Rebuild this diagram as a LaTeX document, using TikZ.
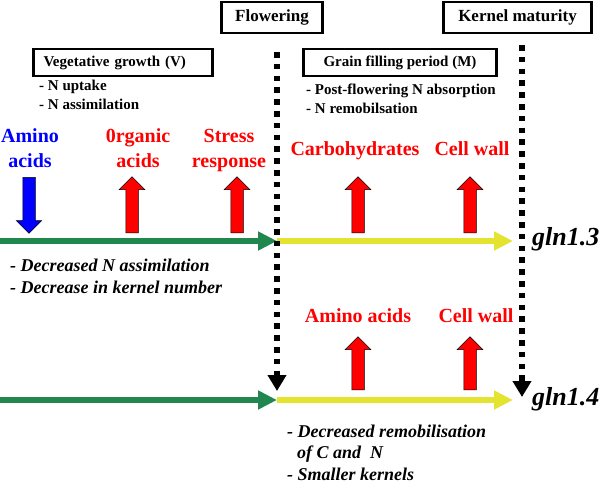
\documentclass[tikz,border=0pt]{standalone}
\usepackage{fontspec}
\setmainfont{Liberation Serif}
\usepackage{xcolor}
\usetikzlibrary{arrows.meta,shapes.arrows,positioning}

\definecolor{phasegreen}{RGB}{32,136,78}
\definecolor{phaseyellow}{RGB}{228,228,48}

\tikzset{
  stagebox/.style={draw, line width=2.6pt, font=\bfseries\fontsize{17}{20}\selectfont, inner sep=0pt},
  periodbox/.style={draw, line width=2.4pt, font=\bfseries\fontsize{15}{18}\selectfont, inner sep=0pt, minimum height=27pt},
  notes/.style={font=\bfseries\fontsize{15}{19}\selectfont, align=left, anchor=base west, inner sep=0pt},
  effect/.style={font=\bfseries\itshape\fontsize{18}{21.5}\selectfont, align=left, anchor=base west, inner sep=0pt},
  metab/.style={font=\bfseries\fontsize{20}{25}\selectfont, text=red, align=center, anchor=base, inner sep=0pt},
  blockup/.style={single arrow, draw=black, line width=0.5pt, fill=red, minimum height=56pt, minimum width=25pt,
    single arrow head extend=6.5pt, inner sep=6pt, shape border rotate=90, anchor=tail},
  phase/.style={line width=6pt, -{Triangle[length=19pt,width=18pt]}},
  stageline/.style={line width=5.5pt, dash pattern=on 5.5pt off 6.3pt, -{Triangle[length=16pt,width=18pt]}},
  gene/.style={font=\bfseries\itshape\fontsize{26}{30}\selectfont, anchor=base west, inner sep=0pt}
}

\begin{document}
\begin{tikzpicture}[x=1pt, y=-1pt]
\useasboundingbox (0,0) rectangle (600,482);

% stage boxes
\node[stagebox, minimum width=101pt, minimum height=31pt] (flowering) at (272,17.5) {Flowering};
\node[stagebox, minimum width=148pt, minimum height=31pt] (maturity) at (517.5,17.5) {Kernel maturity};
\node[periodbox, text width=159pt, inner xsep=10pt] (vegbox) at (123,62.5) {Vegetative growth (V)};
\node[periodbox, minimum width=193pt] (grainbox) at (400,62.5) {Grain filling period (M)};

% anchored at the baseline of the last line
\node[notes] (vegnotes) at (39,109) {- N uptake\\- N assimilation};
\node[notes] (grainnotes) at (306,113) {- Post-flowering N absorption\\- N remobilsation};

% metabolites
\node[metab, text=blue] (aminotop) at (30,167) {Amino\\acids};
\node[metab] (organic) at (138,167) {0rganic\\acids};
\node[metab] (stress) at (229,167) {Stress\\response};
\node[metab] (carbo) at (355,155) {Carbohydrates};
\node[metab] (walltop) at (472,155) {Cell wall};
\node[metab] (aminobot) at (358,322) {Amino acids};
\node[metab] (wallbot) at (476,322) {Cell wall};

\node[blockup, fill=blue, shape border rotate=270] (downamino) at (29,177) {};
\node[blockup] (uporganic) at (132,233) {};
\node[blockup] (upstress) at (237,233) {};
\node[blockup] (upcarbo) at (358,233) {};
\node[blockup] (upwalltop) at (470,233) {};
\node[blockup, minimum height=53pt] (upaminobot) at (358,390) {};
\node[blockup, minimum height=53pt] (upwallbot) at (470,390) {};

% time lines
\coordinate (start13) at (0,241);
\coordinate (flow13) at (277,241);
\coordinate (end13) at (513,241);
\coordinate (start14) at (0,400);
\coordinate (flow14) at (277,400);
\coordinate (end14) at (513,400);
\coordinate (flowtop) at (277,52);
\coordinate (flowtip) at (277,391);
\coordinate (maturetop) at (522,45);
\coordinate (maturetip) at (522,397);

\draw[phase, phasegreen] (start13) -- (flow13);
\draw[phase, phaseyellow] (flow13) -- (end13);
\draw[phase, phasegreen] (start14) -- (flow14);
\draw[phase, phaseyellow] (flow14) -- (end14);

\draw[stageline] (flowtop) -- (flowtip);
\draw[stageline] (maturetop) -- (maturetip);

\node[gene] (gln13) at (532,245) {gln1.3};
\node[gene] (gln14) at (532,405) {gln1.4};

% phenotypes
\node[effect] (vegeffect) at (10,293) {- Decreased N assimilation\\- Decrease in kernel number};
\node[effect] (graineffect) at (287,480) {- Decreased remobilisation\\\hspace*{10pt}of C and~~N\\- Smaller kernels};

\end{tikzpicture}
\end{document}
